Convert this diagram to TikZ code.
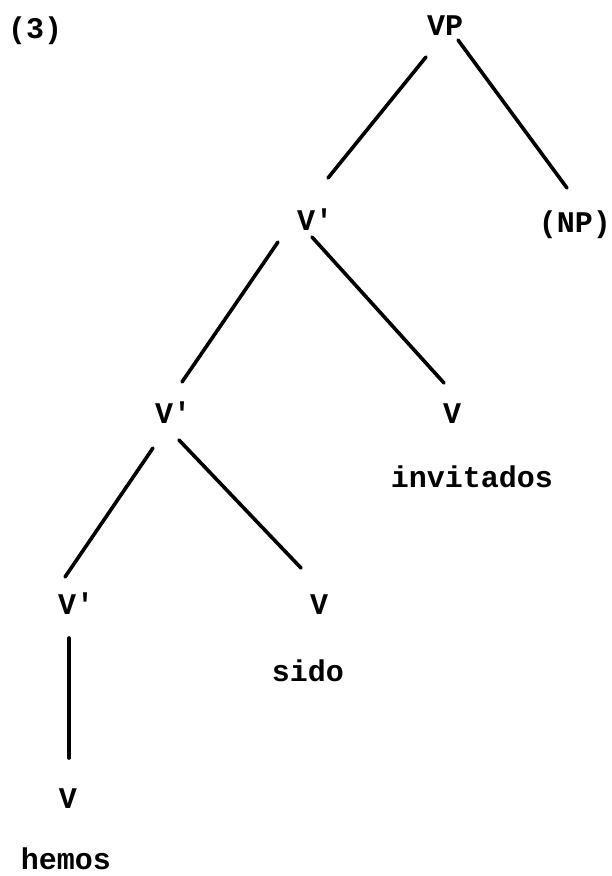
\documentclass[tikz,border=0pt]{standalone}
\usepackage{fontspec}
\setmonofont{Liberation Mono}
\usetikzlibrary{calc}
\begin{document}
\begin{tikzpicture}[x=1pt,y=-1pt,
  lbl/.style={font=\ttfamily\bfseries\fontsize{30}{30}\selectfont, inner sep=0pt},
  edge/.style={line width=3.6pt, line cap=round}]
\useasboundingbox (0,0) rectangle (611,876);
\node[lbl, anchor=base west] (ex) at (8,38) {(3)};
\node[lbl, anchor=base] (vp) at (445,35) {VP};
\node[lbl, anchor=base west] (v1) at (297,230) {V'};
\node[lbl, anchor=base] (np) at (575,232) {(NP)};
\node[lbl, anchor=base west] (v2) at (155,423) {V'};
\node[lbl, anchor=base] (v3) at (452,423) {V};
\node[lbl, anchor=base] (w3) at (472,487) {invitados};
\node[lbl, anchor=base west] (v4) at (58,614) {V'};
\node[lbl, anchor=base] (v5) at (319,614) {V};
\node[lbl, anchor=base] (w5) at (308,681) {sido};
\node[lbl, anchor=base] (v6) at (68,808) {V};
\node[lbl, anchor=base] (w6) at (66,869) {hemos};
\draw[edge] ($(vp.base)+(-19,22)$) -- ($(v1.base west)+(31,-52)$);
\draw[edge] ($(vp.base)+(13,5)$) -- ($(np.base)+(-8,-44)$);
\draw[edge] ($(v1.base west)+(-19,12)$) -- ($(v2.base west)+(27,-41)$);
\draw[edge] ($(v1.base west)+(15,7)$) -- ($(v3.base)+(-8,-40)$);
\draw[edge] ($(v2.base west)+(-2,25)$) -- ($(v4.base west)+(7,-37)$);
\draw[edge] ($(v2.base west)+(24,17)$) -- ($(v5.base)+(-18,-46)$);
\draw[edge] ($(v4.base west)+(11,24)$) -- ($(v6.base)+(1,-50)$);
\end{tikzpicture}
\end{document}
